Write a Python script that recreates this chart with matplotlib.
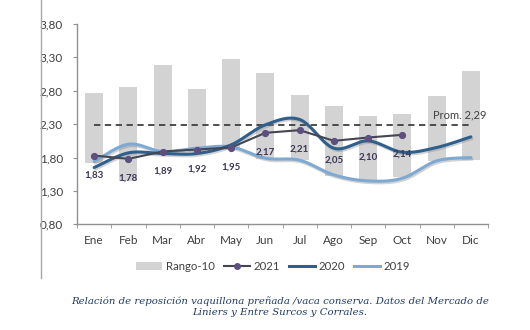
import numpy as np
import matplotlib
matplotlib.use("Agg")
import matplotlib.pyplot as plt
import matplotlib.patheffects as pe
from matplotlib.lines import Line2D
from matplotlib.patches import Patch

months = ["Ene", "Feb", "Mar", "Abr", "May", "Jun", "Jul", "Ago", "Sep", "Oct", "Nov", "Dic"]
range_low = [1.72, 1.45, 1.86, 1.88, 1.92, 1.78, 1.77, 1.53, 1.47, 1.51, 1.75, 1.77]
range_high = [2.77, 2.85, 3.19, 2.83, 3.27, 3.06, 2.74, 2.57, 2.42, 2.45, 2.72, 3.10]
y2021 = [1.83, 1.78, 1.89, 1.92, 1.95, 2.17, 2.21, 2.05, 2.10, 2.14]
y2020 = [1.65, 1.87, 1.86, 1.86, 1.99, 2.29, 2.37, 1.94, 2.05, 1.88, 1.95, 2.11]
y2019 = [1.74, 2.00, 1.89, 1.94, 1.96, 1.79, 1.76, 1.54, 1.45, 1.49, 1.75, 1.80]
promedio = 2.29
yticks = [0.80, 1.30, 1.80, 2.30, 2.80, 3.30, 3.80]
caption = ("Relación de reposición vaquillona preñada /vaca conserva. Datos del Mercado de\n"
           "Liniers y Entre Surcos y Corrales.")

C_BAR = "#d3d3d3"
C_2021 = "#464552"
C_2021_MK = "#5d4f80"
C_2020 = "#2f5f8c"
C_2019 = "#7ea9d2"
C_TEXT = "#404040"
C_LABEL = "#3b3656"
C_CAPTION = "#1f3a68"

FONT = "Lato"


def smooth(x, y, n=24):
    """Smoothed polyline through (x, y) using cubic Bezier segments (Catmull-Rom tangents)."""
    x = np.asarray(x, float)
    y = np.asarray(y, float)
    px = np.concatenate([[x[0]], x, [x[-1]]])
    py = np.concatenate([[y[0]], y, [y[-1]]])
    xs, ys = [], []
    t = np.linspace(0, 1, n)
    for i in range(1, len(px) - 2):
        p0 = np.array([px[i], py[i]])
        p3 = np.array([px[i + 1], py[i + 1]])
        p1 = p0 + (np.array([px[i + 1], py[i + 1]]) - np.array([px[i - 1], py[i - 1]])) / 6
        p2 = p3 - (np.array([px[i + 2], py[i + 2]]) - np.array([px[i], py[i]])) / 6
        b = ((1 - t) ** 3)[:, None] * p0 + (3 * (1 - t) ** 2 * t)[:, None] * p1 \
            + (3 * (1 - t) * t ** 2)[:, None] * p2 + (t ** 3)[:, None] * p3
        xs.append(b[:, 0])
        ys.append(b[:, 1])
    return np.concatenate(xs), np.concatenate(ys)


fig = plt.figure(figsize=(5.3, 3.3), dpi=100)
fig.patch.set_facecolor("white")
ax = fig.add_axes([77 / 530, 1 - 224.3 / 330, 411 / 530, 200.3 / 330])

x = np.arange(len(months))

# Ten-year range as floating bars
heights = np.array(range_high) - np.array(range_low)
ax.bar(x, heights, bottom=range_low, width=0.52, color=C_BAR, zorder=1)

# Average line
ax.plot([x[0], x[-1]], [promedio, promedio], color=C_TEXT, lw=1.3,
        dashes=(3.5, 2.5), zorder=2)
ax.text(x[-1] + 0.45, promedio + 0.07, "Prom. " + f"{promedio:.2f}".replace(".", ","),
        ha="right", va="bottom", fontsize=8, color=C_TEXT, family=FONT)

shadow = [pe.SimpleLineShadow(offset=(0.8, -1.2), shadow_color="#808080", alpha=0.35), pe.Normal()]

sx, sy = smooth(x, y2019)
ax.plot(sx, sy, color=C_2019, lw=2.2, solid_capstyle="round", zorder=3, path_effects=shadow)
sx, sy = smooth(x, y2020)
ax.plot(sx, sy, color=C_2020, lw=2.2, solid_capstyle="round", zorder=4, path_effects=shadow)

x21 = x[:len(y2021)]
ax.plot(x21, y2021, color=C_2021, lw=1.5, zorder=5,
        marker="o", ms=4.2, mfc=C_2021_MK, mec=C_2021_MK)
for xi, v in zip(x21, y2021):
    ax.annotate(f"{v:.2f}".replace(".", ","), (xi, v), xytext=(0, -14),
                textcoords="offset points", ha="center", va="center",
                fontsize=7, color=C_LABEL, family=FONT, fontweight="bold", zorder=6)

ax.set_xlim(-0.5, len(months) - 0.5)
ax.set_ylim(yticks[0], yticks[-1])
ax.set_yticks(yticks)
ax.set_yticklabels([f"{v:.2f}".replace(".", ",") for v in yticks])
ax.set_xticks(x)
ax.set_xticklabels(months)
ax.set_xticks(np.arange(-0.5, len(months)), minor=True)
ax.tick_params(axis="x", which="major", length=0, pad=8, labelsize=8.5, labelcolor=C_TEXT)
ax.tick_params(axis="x", which="minor", length=3, color="#909090", direction="out")
ax.tick_params(axis="y", length=3, color="#909090", pad=7, labelsize=8.5, labelcolor=C_TEXT)
for lab in ax.get_xticklabels() + ax.get_yticklabels():
    lab.set_family(FONT)
for s in ["top", "right"]:
    ax.spines[s].set_visible(False)
for s in ["left", "bottom"]:
    ax.spines[s].set_color("#909090")
    ax.spines[s].set_linewidth(1)

handles = [
    Patch(facecolor=C_BAR, edgecolor="none"),
    Line2D([], [], color=C_2021, lw=1.5, marker="o", ms=4, mfc=C_2021_MK, mec=C_2021_MK),
    Line2D([], [], color=C_2020, lw=2.2),
    Line2D([], [], color=C_2019, lw=2.2),
]
fig.legend(handles, ["Rango-10", "2021", "2020", "2019"], loc="center",
           bbox_to_anchor=(273 / 530, 1 - 266 / 330), ncol=4, frameon=False,
           prop={"family": FONT, "size": 8.2}, handlelength=2.3, handletextpad=0.3,
           columnspacing=0.8, labelcolor=C_TEXT)

# Frame line along the left edge of the panel
fig.add_artist(Line2D([41 / 530, 41 / 530], [1 - 278 / 330, 1.0], color="#a8a8a8", lw=1,
                      transform=fig.transFigure))

fig.text(280 / 530, 1 - 307 / 330, caption, ha="center", va="center", fontsize=7.3,
         color=C_CAPTION, family="DejaVu Serif", style="italic", linespacing=1.3)

fig.savefig("out.png", dpi=100, facecolor="white")
